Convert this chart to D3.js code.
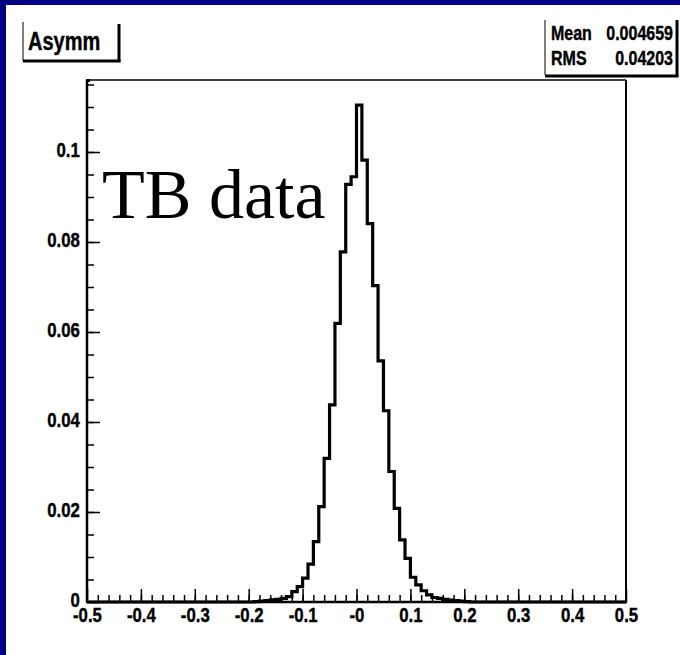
<!DOCTYPE html>
<html>
<head>
<meta charset="utf-8">
<style>
body {
    margin: 0;
    padding: 0;
    background: #000080;
    overflow: hidden;
}
svg { display: block; }
.narrow {
    font-family: "Liberation Sans Narrow", "Arial Narrow", "Liberation Sans", sans-serif;
    font-weight: bold;
    stroke: #000;
    stroke-width: 0.4px;
}
.axis path { display: none; }
.axis line { stroke: #000; stroke-width: 1.5px; }
</style>
</head>
<body>
<script src="https://d3js.org/d3.v7.min.js"></script>
<script>
// histogram "Asymm", 0.01 wide bins, filled part starts at -0.20
var binStart = -0.2;
var binWidth = 0.01;
var binValues = [
    0.0000, 0.0001, 0.0002, 0.0003, 0.0005, 0.0006, 0.0008, 0.0012, 0.0023, 0.0034,
    0.0053, 0.0084, 0.0134, 0.0212, 0.0319, 0.0438, 0.0619, 0.0778, 0.0928, 0.0945,
    0.1104, 0.0982, 0.0841, 0.0703, 0.0536, 0.0425, 0.0290, 0.0208, 0.0138, 0.0097,
    0.0055, 0.0038, 0.0025, 0.0016, 0.0010, 0.0008, 0.0006, 0.0004, 0.0003, 0.0002,
    0.0001
];

var xDomain = [-0.5, 0.5];
var yDomain = [0, 0.116];

var xTicks = [-0.5, -0.4, -0.3, -0.2, -0.1, 0, 0.1, 0.2, 0.3, 0.4, 0.5];
var xTickLabels = ["-0.5", "-0.4", "-0.3", "-0.2", "-0.1", "-0", "0.1", "0.2", "0.3", "0.4", "0.5"];
var yTicks = [0, 0.02, 0.04, 0.06, 0.08, 0.1];
var yTickLabels = ["0", "0.02", "0.04", "0.06", "0.08", "0.1"];

var statNames = ["Mean", "RMS"];
var statValues = ["0.004659", "0.04203"];
var histTitle = "Asymm";
var note = "TB data";

var width = 680, height = 655;
var frame = { left: 87, right: 626, top: 80, bottom: 602 };
var squeeze = 0.8; // condensed look of the ROOT font

var svg = d3.select("body").append("svg")
    .attr("width", width)
    .attr("height", height);

// white pad inside the blue border
svg.append("rect")
    .attr("x", 6).attr("y", 5)
    .attr("width", width - 6).attr("height", height - 5)
    .attr("fill", "#fff");

var x = d3.scaleLinear().domain(xDomain).range([frame.left, frame.right]);
var y = d3.scaleLinear().domain(yDomain).range([frame.bottom, frame.top]);

function narrowText(parent, px, py, str, size, anchor) {
    return parent.append("g")
        .attr("transform", "translate(" + px + "," + py + ") scale(" + squeeze + ",1)")
        .append("text")
        .attr("class", "narrow")
        .attr("font-size", size)
        .attr("text-anchor", anchor || "start")
        .text(str);
}

// minor ticks
svg.append("g")
    .attr("class", "axis")
    .attr("transform", "translate(0," + frame.bottom + ")")
    .call(d3.axisBottom(x).tickValues(d3.range(-0.48, 0.5, 0.02)).tickSize(-7).tickFormat(""));
svg.append("g")
    .attr("class", "axis")
    .attr("transform", "translate(" + frame.left + ",0)")
    .call(d3.axisLeft(y).tickValues(d3.range(0.005, 0.116, 0.005)).tickSize(-7).tickFormat(""));

// major ticks + labels
svg.append("g")
    .attr("class", "axis narrow")
    .attr("transform", "translate(0," + frame.bottom + ")")
    .call(d3.axisBottom(x).tickValues(xTicks).tickSize(-13).tickPadding(5)
        .tickFormat(function(d, i) { return xTickLabels[i]; }))
    .selectAll("text")
    .attr("font-size", 21)
    .attr("transform", "scale(" + squeeze + ",1)")
    .attr("fill", "#000");

svg.append("g")
    .attr("class", "axis narrow")
    .attr("transform", "translate(" + frame.left + ",0)")
    .call(d3.axisLeft(y).tickValues(yTicks).tickSize(-13).tickPadding(9)
        .tickFormat(function(d, i) { return yTickLabels[i]; }))
    .selectAll("text")
    .attr("font-size", 21)
    .attr("dy", "0.2em")
    .attr("transform", "scale(" + squeeze + ",1)")
    .attr("fill", "#000");

// frame
svg.append("line").attr("x1", frame.left).attr("x2", frame.right)
    .attr("y1", frame.top).attr("y2", frame.top)
    .attr("stroke", "#000").attr("stroke-width", 1.5);
svg.append("line").attr("x1", frame.right).attr("x2", frame.right)
    .attr("y1", frame.top).attr("y2", frame.bottom)
    .attr("stroke", "#000").attr("stroke-width", 2);
svg.append("line").attr("x1", frame.left).attr("x2", frame.left)
    .attr("y1", frame.top).attr("y2", frame.bottom + 1)
    .attr("stroke", "#000").attr("stroke-width", 2.5);
svg.append("line").attr("x1", frame.left).attr("x2", frame.right + 1)
    .attr("y1", frame.bottom).attr("y2", frame.bottom)
    .attr("stroke", "#000").attr("stroke-width", 2.5);
svg.append("rect").attr("x", frame.left - 1).attr("y", frame.top - 1)
    .attr("width", 4).attr("height", 3).attr("fill", "#000");

// histogram outline
var pts = [[xDomain[0], 0]];
binValues.forEach(function(v, i) {
    pts.push([binStart + i * binWidth, v]);
});
pts.push([binStart + binValues.length * binWidth, 0]);
pts.push([xDomain[1], 0]);

svg.append("path")
    .datum(pts)
    .attr("fill", "none")
    .attr("stroke", "#000")
    .attr("stroke-width", 3.2)
    .attr("stroke-linejoin", "miter")
    .attr("d", d3.line()
        .x(function(d) { return x(d[0]); })
        .y(function(d) { return y(d[1]); })
        .curve(d3.curveStepAfter));

// "TB data"
svg.append("text")
    .attr("x", 102)
    .attr("y", 218)
    .attr("font-family", "'Liberation Serif', 'Times New Roman', serif")
    .attr("font-size", 70)
    .attr("fill", "#000")
    .text(note);

// title box
var tb = svg.append("g");
tb.append("line").attr("x1", 23).attr("x2", 23).attr("y1", 22).attr("y2", 61)
    .attr("stroke", "#000").attr("stroke-width", 1);
tb.append("line").attr("x1", 119).attr("x2", 119).attr("y1", 24).attr("y2", 62)
    .attr("stroke", "#000").attr("stroke-width", 3);
tb.append("line").attr("x1", 23).attr("x2", 120.5).attr("y1", 61).attr("y2", 61)
    .attr("stroke", "#000").attr("stroke-width", 3);
narrowText(tb, 28, 50, histTitle, 25);

// stats box
var sb = svg.append("g");
sb.append("line").attr("x1", 545).attr("x2", 545).attr("y1", 20).attr("y2", 75)
    .attr("stroke", "#000").attr("stroke-width", 1);
sb.append("line").attr("x1", 677).attr("x2", 677).attr("y1", 20).attr("y2", 77)
    .attr("stroke", "#000").attr("stroke-width", 3);
sb.append("line").attr("x1", 545).attr("x2", 678.5).attr("y1", 76).attr("y2", 76)
    .attr("stroke", "#000").attr("stroke-width", 3);
statNames.forEach(function(s, i) {
    narrowText(sb, 551, 40 + i * 25, s, 20);
    narrowText(sb, 673, 40 + i * 25, statValues[i], 20, "end");
});
</script>
</body>
</html>
